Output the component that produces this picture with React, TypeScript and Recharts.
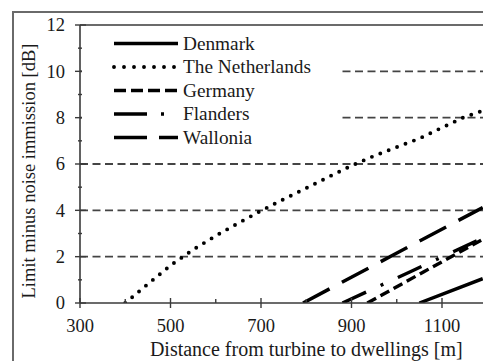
import React from 'react';
import { LineChart, Line, XAxis, YAxis, ReferenceLine, Legend } from 'recharts';

// axis ticks
const distanceTicks = [300, 400, 500, 600, 700, 800, 900, 1000, 1100, 1200, 1300];
const distanceLabels = [300, 500, 700, 900, 1100];
const marginTicks = [0, 1, 2, 3, 4, 5, 6, 7, 8, 9, 10, 11, 12];
const gridLevels = [2, 4, 6, 8, 10];

// series (distance in m, margin in dB)
const denmarkDistance = [1050, 1120, 1190];
const denmarkMargin = [0, 0.52, 1.05];

const netherlandsDistance = [400, 450, 500, 550, 600, 650, 700, 750, 800, 850, 900, 950, 1000, 1050, 1100, 1150, 1190];
const netherlandsMargin = [0, 0.82, 1.62, 2.3, 2.9, 3.45, 3.98, 4.48, 4.96, 5.45, 5.93, 6.35, 6.73, 7.1, 7.57, 8.03, 8.3];

const germanyDistance = [935, 1060, 1190];
const germanyMargin = [0, 1.35, 2.75];

const flandersDistance = [880, 1030, 1190];
const flandersMargin = [0, 1.35, 2.8];

const walloniaDistance = [793, 990, 1190];
const walloniaMargin = [0, 2.05, 4.12];

const FONT = '"Liberation Serif", "Times New Roman", serif';
const INK = '#1a1a1a';
const AXIS = '#3a3a3a';

const toPoints = (distance: number[], margin: number[]) =>
  distance.map((d, i) => ({ distance: d, margin: margin[i] }));

const series = [
  { name: 'Denmark', data: toPoints(denmarkDistance, denmarkMargin), dash: undefined, legendDash: undefined, cap: 'butt', width: 3.4 },
  { name: 'The Netherlands', data: toPoints(netherlandsDistance, netherlandsMargin), dash: '0 9', legendDash: '0 10', cap: 'round', width: 3.9 },
  { name: 'Germany', data: toPoints(germanyDistance, germanyMargin), dash: '10 5', legendDash: '12 5', cap: 'butt', width: 3.4 },
  { name: 'Flanders', data: toPoints(flandersDistance, flandersMargin), dash: '26 16 3 16', legendDash: '33 14 3 40', cap: 'butt', width: 3.4 },
  { name: 'Wallonia', data: toPoints(walloniaDistance, walloniaMargin), dash: '30 14', legendDash: '33 12 19', cap: 'butt', width: 3.5 },
];

function XTick(props: any) {
  const { x, y, payload } = props;
  const major = distanceLabels.includes(payload.value) || payload.value % 200 === 100;
  const labelled = distanceLabels.includes(payload.value);
  return (
    <g>
      <line x1={x} x2={x} y1={y - (major ? 5 : 4)} y2={y + (major ? 5 : 0)} stroke={AXIS} strokeWidth={1.4} />
      {labelled && (
        <text x={x} y={y + 29} textAnchor="middle" fontSize={18.5} fill={INK} fontFamily={FONT}>
          {payload.value}
        </text>
      )}
    </g>
  );
}

function YTick(props: any) {
  const { x, y, payload } = props;
  const major = payload.value % 2 === 0;
  return (
    <g>
      <line x1={x - (major ? 5 : 2)} x2={x + (major ? 6 : 2)} y1={y} y2={y} stroke={AXIS} strokeWidth={1.4} />
      {major && (
        <text x={x - 15} y={y} dy="0.35em" textAnchor="end" fontSize={18.5} fill={INK} fontFamily={FONT}>
          {payload.value}
        </text>
      )}
    </g>
  );
}

function LegendBox() {
  return (
    <svg width={256} height={124} style={{ display: 'block' }}>
      {series.map((s, i) => {
        const cy = 16.5 + i * 23.5;
        return (
          <g key={s.name}>
            <line
              x1={32}
              x2={96}
              y1={cy}
              y2={cy}
              stroke="#000"
              strokeWidth={s.width}
              strokeDasharray={s.legendDash}
              strokeLinecap={s.cap as any}
            />
            <text x={101} y={cy} dy="0.33em" fontSize={19.3} fill={INK} fontFamily={FONT}>
              {s.name}
            </text>
          </g>
        );
      })}
    </svg>
  );
}

export default function App() {
  return (
    <div style={{ position: 'absolute', left: 0, top: 0, width: 483, height: 361, overflow: 'hidden', background: '#fff' }}>
      <div
        style={{
          position: 'absolute',
          left: 12,
          top: 11,
          width: 600,
          height: 400,
          border: '2px solid #6a6a6a',
        }}
      />
      <div style={{ position: 'absolute', left: 0, top: 0 }}>
        <LineChart width={540} height={361} margin={{ top: 25, right: 7.5, left: 0, bottom: 0 }}>
          <XAxis
            type="number"
            dataKey="distance"
            domain={[300, 1300]}
            ticks={distanceTicks}
            interval={0}
            allowDataOverflow
            height={58}
            tickSize={0}
            tickMargin={0}
            tickLine={false}
            tick={<XTick />}
            stroke={AXIS}
            strokeWidth={1.6}
            label={{
              value: 'Distance from turbine to dwellings [m]',
              position: 'insideBottom',
              offset: 5,
              fontSize: 20,
              fill: INK,
              fontFamily: FONT,
            }}
          />
          <YAxis
            type="number"
            domain={[0, 12]}
            ticks={marginTicks}
            interval={0}
            allowDataOverflow
            width={80}
            tickSize={0}
            tickMargin={0}
            tickLine={false}
            tick={<YTick />}
            stroke={AXIS}
            strokeWidth={1.6}
            label={{
              content: (p: any) => {
                const vb = p.viewBox || { x: 0, y: 25, width: 80, height: 278 };
                const cx = vb.x + 29;
                const cy = vb.y + vb.height / 2 + 7;
                return (
                  <text
                    x={cx}
                    y={cy}
                    transform={`rotate(-90 ${cx} ${cy})`}
                    textAnchor="middle"
                    dy="0.35em"
                    fontSize={18.5}
                    fill={INK}
                    fontFamily={FONT}
                  >
                    Limit minus noise immission [dB]
                  </text>
                );
              },
            }}
          />
          {gridLevels.map((g) => (
            <ReferenceLine key={g} y={g} stroke="#444" strokeWidth={1.9} strokeDasharray="8 4.5" />
          ))}
          <ReferenceLine y={12} stroke={AXIS} strokeWidth={1.6} />
          {series.map((s) => (
            <Line
              key={s.name}
              data={s.data}
              dataKey="margin"
              name={s.name}
              type="linear"
              stroke="#000"
              strokeWidth={s.width}
              strokeDasharray={s.dash}
              strokeLinecap={s.cap as any}
              dot={false}
              activeDot={false}
              isAnimationActive={false}
            />
          ))}
          <Legend
            layout="vertical"
            align="center"
            verticalAlign="middle"
            wrapperStyle={{ left: 81.5, top: 26.5, width: 256, height: 124, background: '#fff' }}
            content={() => <LegendBox />}
          />
        </LineChart>
      </div>
    </div>
  );
}
